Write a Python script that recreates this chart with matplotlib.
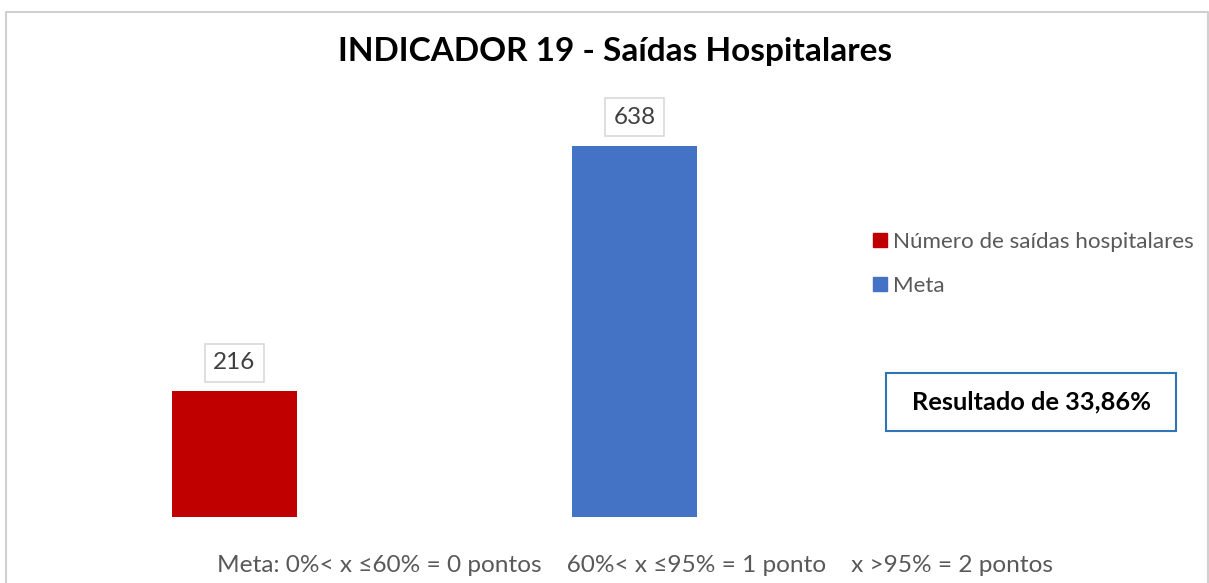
import matplotlib.pyplot as plt
import matplotlib.patches as mpatches

categorias = ["Número de saídas hospitalares", "Meta"]
valores = [216, 638]
cores = ["#C00000", "#4472C4"]
titulo = "INDICADOR 19 - Saídas Hospitalares"
resultado = "Resultado de 33,86%"
rodape = "Meta: 0%< x \u226460% = 0 pontos    60%< x \u226495% = 1 ponto    x >95% = 2 pontos"

plt.rcParams['font.family'] = ['Lato', 'DejaVu Sans']

W, H = 1209, 583
fig = plt.figure(figsize=(W / 100, H / 100), dpi=100)

# axes: bar 0 centered at x=234.5 px, bar 1 at 634.5 px, baseline at y=517 px
ax = fig.add_axes([34.5 / W, 1 - 517 / H, 800 / W, 417 / H])
ax.set_xlim(-0.5, 1.5)
ax.set_ylim(0, 638 * 417 / 371.5)
bars = ax.bar(range(len(valores)), valores, width=125 / 400, color=cores)
for s in ax.spines.values():
    s.set_visible(False)
ax.set_xticks([])
ax.set_yticks([])

for b, v in zip(bars, valores):
    ax.annotate(str(v), (b.get_x() + b.get_width() / 2, v), xytext=(0, 20.5),
                textcoords="offset points", ha="center", va="center",
                fontsize=17.5, color="#404040",
                bbox=dict(boxstyle="square,pad=0.35", fc="white", ec="#D9D9D9", lw=1.2))

handles = [mpatches.Patch(color=c) for c in cores]
fig.legend(handles, categorias, loc="upper left", bbox_to_anchor=(853 / W, 1 - 212 / H),
           frameon=False, fontsize=16.1, labelcolor="#595959",
           handlelength=0.6, handleheight=0.6, handletextpad=0.3, labelspacing=1.08)

fig.text(615 / W, 1 - 52 / H, titulo, ha="center", va="center",
         fontsize=24, fontweight="bold", color="black")

fig.patches.append(mpatches.Rectangle((886 / W, 1 - 431 / H), 290 / W, 58 / H,
                                      transform=fig.transFigure, fill=False,
                                      ec="#2E75B6", lw=1.5))
fig.text(1031 / W, 1 - 402 / H, resultado, ha="center", va="center",
         fontsize=18.3, fontweight="bold", color="black")

fig.text(635 / W, 1 - 565 / H, rodape, ha="center", va="center",
         fontsize=17.6, color="#595959")

# outer chart border (top, left, right)
fig.add_artist(plt.Line2D([6 / W, 6 / W, 1208 / W, 1208 / W],
                          [0, 1 - 11.5 / H, 1 - 11.5 / H, 0],
                          transform=fig.transFigure, color="#D0D0D0", lw=1.5))

fig.savefig("out.png", dpi=100)
